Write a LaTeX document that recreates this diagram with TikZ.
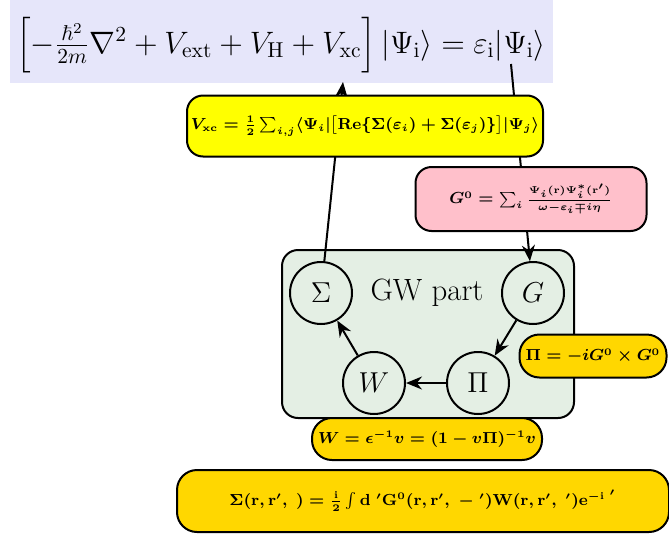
\documentclass[tikz,border=0pt]{standalone}
\usepackage{amsmath,amssymb}
\usetikzlibrary{arrows.meta}
\definecolor{lav}{RGB}{230,230,250}
\definecolor{gwgreen}{RGB}{228,239,228}
\definecolor{goldc}{RGB}{255,215,0}
\definecolor{pinkc}{RGB}{255,192,203}
\definecolor{yellowc}{RGB}{255,255,0}
\begin{document}
\begin{tikzpicture}[x=0.5pt,y=-0.5pt,
  box/.style={draw, line width=1pt, inner sep=0pt, align=center, font=\fontsize{7.7}{9}\selectfont\boldmath},
  circ/.style={circle, draw, line width=1pt, fill=gwgreen, minimum size=31pt, inner sep=0pt, font=\fontsize{15.4}{18}\selectfont},
  arr/.style={line width=1pt, -{Stealth[length=8pt,width=6.5pt]}}]
\useasboundingbox (0,0) rectangle (669,536);
% top equation
\node[fill=lav, minimum width=271.5pt, minimum height=41.5pt, inner sep=0pt] (top) at (281.5,41.5) {};
\node[inner sep=0pt, anchor=base, scale=1.075] (topeq) at (281,53)
  {\Large $\Bigl[-\frac{\hbar^2}{2m}\nabla^2+V_{\mathrm{ext}}+V_{\mathrm{H}}+V_{\mathrm{xc}}\Bigr]\,|\Psi_{\mathrm{i}}\rangle=\varepsilon_{\mathrm{i}}|\Psi_{\mathrm{i}}\rangle$};
\coordinate (vtip) at (343,82);
\coordinate (psi) at (511,64);
% GW part box
\node[draw, line width=1pt, fill=gwgreen, rounded corners=8pt, minimum width=146pt, minimum height=84pt] (gw) at (428,334) {};
\node[font=\fontsize{15.4}{18}\selectfont] (gwlabel) at (427,293) {GW part};
\node[circ] (sig) at (321,293) {$\Sigma$};
\node[circ] (g) at (533,293) {$G$};
\node[circ] (w) at (374,383) {$W$};
\node[circ] (pi) at (478,383) {$\Pi$};
% connectors
\draw[arr] (sig) -- (vtip);
\draw[arr] (psi) -- (g);
\draw[arr] (g) -- (pi);
\draw[arr] (pi) -- (w);
\draw[arr] (w) -- (sig);
% formula boxes
\node[box, fill=yellowc, rounded corners=8pt, minimum width=178pt, minimum height=30.5pt] (vxc) at (365,126)
  {$V_{\mathrm{xc}}=\frac{1}{2}\sum_{i,j}\langle\Psi_i|\bigl[\mathrm{Re}\{\Sigma(\varepsilon_i)+\Sigma(\varepsilon_j)\}\bigr]|\Psi_j\rangle$};
\node[box, fill=pinkc, rounded corners=8pt, minimum width=115.5pt, minimum height=32pt] (g0) at (531,199)
  {$G^0=\sum_i\frac{\Psi_i(\mathrm{r})\Psi_i^*(\mathrm{r}')}{\omega-\varepsilon_i\mp i\eta}$};
\node[box, fill=goldc, rounded corners=10pt, minimum width=73.5pt, minimum height=21.5pt] (pibox) at (593,356)
  {$\Pi=-iG^0\times G^0$};
\node[box, fill=goldc, rounded corners=10pt, minimum width=115pt, minimum height=21pt] (wbox) at (427,439)
  {$W=\epsilon^{-1}v=(1-v\Pi)^{-1}v$};
\node[box, fill=goldc, rounded corners=10pt, minimum width=246pt, minimum height=31pt] (sbox) at (423,501)
  {$\Sigma(\mathrm{r},\mathrm{r}',\ )=\frac{\mathrm{i}}{2}\int\mathrm{d}\ '\mathrm{G}^0(\mathrm{r},\mathrm{r}',\ -\ ')\mathrm{W}(\mathrm{r},\mathrm{r}',\ ')\mathrm{e}^{-\mathrm{i}\ '}$};
\end{tikzpicture}
\end{document}
